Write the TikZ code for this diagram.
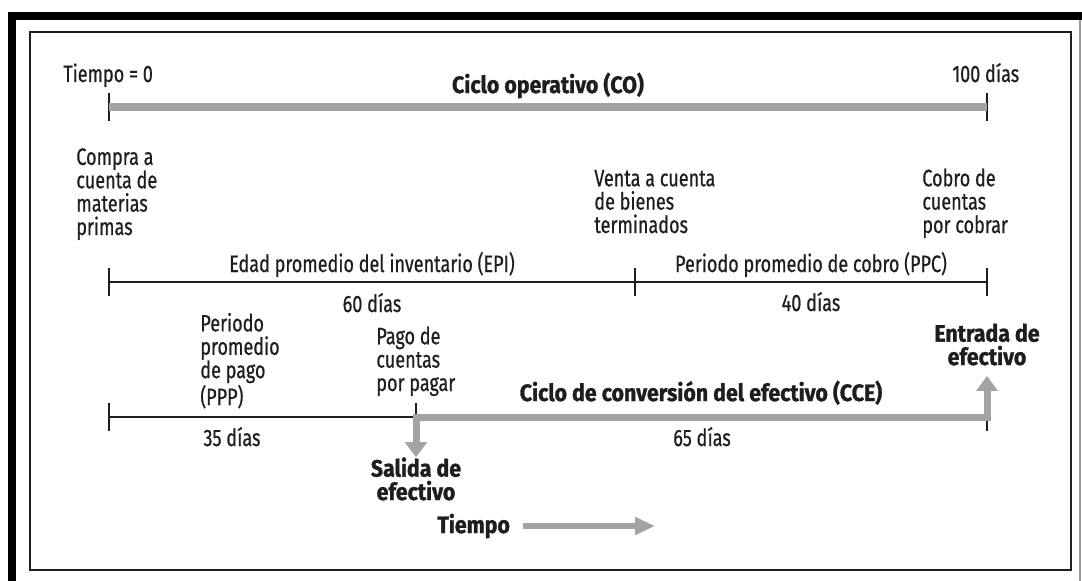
\documentclass[tikz,border=0pt]{standalone}
\usepackage{fontspec}
\setmainfont{Fira Sans}[FakeStretch=0.76, FakeBold=0.6, BoldFeatures={FakeBold=1.2, FakeStretch=0.9}]
\usetikzlibrary{arrows.meta}
\definecolor{barra}{RGB}{163,163,163}
\definecolor{tinta}{RGB}{30,30,30}
\tikzset{
  txt/.style={font=\fontsize{13.5}{13.3}\selectfont, text=tinta, inner sep=0pt, align=left},
  negrita/.style={txt, font=\fontsize{13.5}{13.3}\selectfont\bfseries},
  eje/.style={draw=tinta, line width=0.8pt},
  barra gris/.style={draw=barra, line width=0.15cm, line join=miter},
}

\begin{document}
\begin{tikzpicture}[x=0.02cm, y=-0.02cm]
\useasboundingbox (0,0) rectangle (1082,581);
% marco
\fill[black] (8,12) rectangle (16,581);
\fill[black] (8,12) rectangle (1082,20);
\draw[black!40, line width=0.6pt] (1080,20) -- (1080,581);
\draw[tinta, line width=1.1pt, fill=white] (30,32) rectangle (1071,570);

% ciclo operativo
\coordinate (co ini) at (109,107);
\coordinate (co fin) at (987,107);
\foreach \c in {co ini, co fin}
  \draw[eje] (\c) ++(0,-14) -- ++(0,28);
\draw[barra gris] (co ini) -- (co fin);
\node[txt, anchor=base west] (t0) at (63,82) {Tiempo = 0};
\node[txt, anchor=base west] (t100) at (952,82) {100 días};
\node[negrita, anchor=base] (co) at (548,93) {Ciclo operativo (CO)};

% (base = ultima linea)
\node[txt, anchor=base west] (compra) at (76,235) {Compra a\\cuenta de\\materias\\primas};
\node[txt, anchor=base west] (venta) at (594,233) {Venta a cuenta\\de bienes\\terminados};
\node[txt, anchor=base west] (cobro) at (922,233) {Cobro de\\cuentas\\por cobrar};

% inventario y cobro
\coordinate (i0) at (109,282);
\coordinate (i1) at (635,282);
\coordinate (i2) at (987,282);
\draw[eje] (i0) -- (i2);
\foreach \c in {i0, i1, i2}
  \draw[eje] (\c) ++(0,-14) -- ++(0,28);
\node[txt, anchor=base] (epi) at (372,272) {Edad promedio del inventario (EPI)};
\node[txt, anchor=base] (ppc) at (811,272) {Periodo promedio de cobro (PPC)};
\node[txt, anchor=base] (d60) at (372,312) {60 días};
\node[txt, anchor=base] (d40) at (811,311) {40 días};

% pago y conversion
\coordinate (p0) at (109,417);
\coordinate (p1) at (416,417);
\coordinate (p2) at (987,417);
\draw[eje] (p0) -- (p2);
\foreach \c in {p0, p1, p2}
  \draw[eje] (\c) ++(0,-14) -- ++(0,28);
\node[txt, anchor=base west] (ppp) at (200,405) {Periodo\\promedio\\de pago\\(PPP)};
\node[txt, anchor=base west] (pago) at (376,391) {Pago de\\cuentas\\por pagar};
\node[negrita, anchor=base] (cce) at (701,401) {Ciclo de conversión del efectivo (CCE)};
\node[txt, anchor=base] (d35) at (232,446) {35 días};
\node[txt, anchor=base] (d65) at (702,446) {65 días};
\node[negrita, anchor=base, align=center] (salida) at (416,500) {Salida de\\efectivo};
\node[negrita, anchor=base, align=center] (entrada) at (987,365) {Entrada de\\efectivo};
\coordinate (salida tip) at (416,457);
\coordinate (entrada tip) at (987,376);
\draw[barra gris, line width=0.14cm,
  {Triangle[width=0.44cm,length=0.3cm]}-{Triangle[width=0.42cm,length=0.3cm]}]
  (salida tip) -- (p1) -- (p2) -- (entrada tip);

% tiempo
\node[negrita, anchor=base west] (tiempo) at (437,533) {Tiempo};
\coordinate (tiempo fin) at (655,529);
\draw[barra gris, line width=0.13cm, -{Triangle[width=0.34cm,length=0.4cm]}]
  ([xshift=0.26cm]tiempo.east) -- (tiempo.east -| tiempo fin);
\end{tikzpicture}
\end{document}
